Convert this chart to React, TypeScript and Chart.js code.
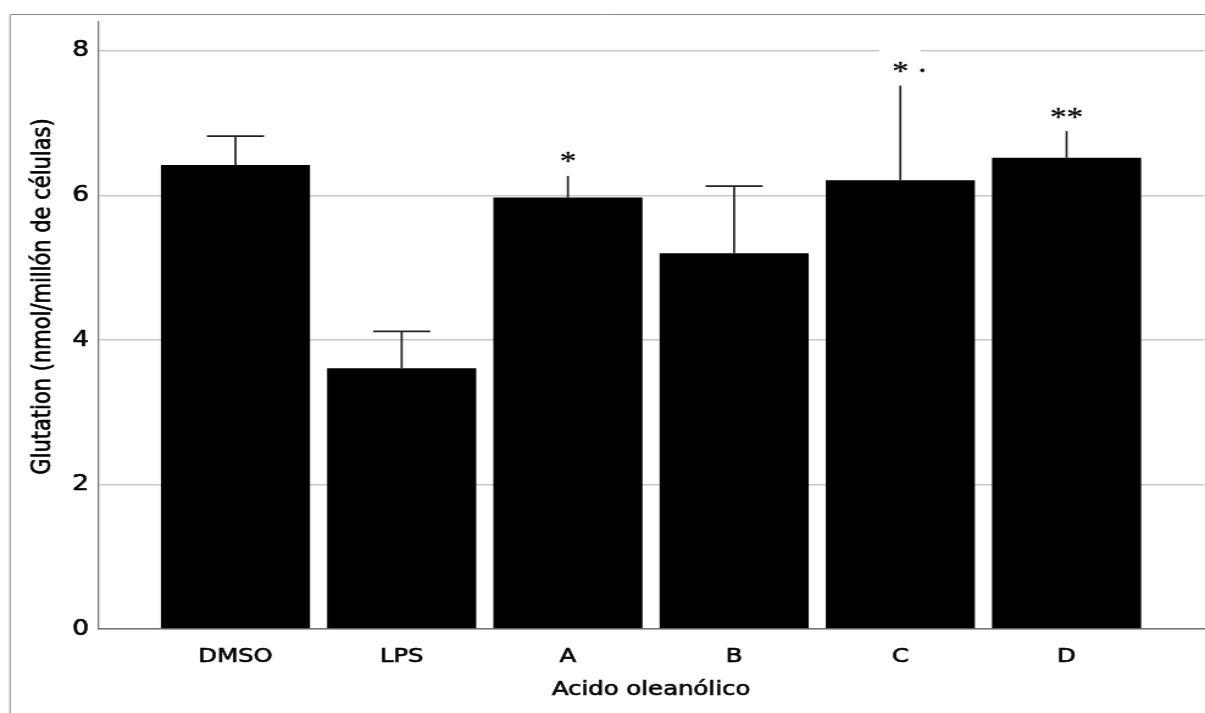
import React, { useEffect, useRef } from 'react';
import { Chart, registerables } from 'chart.js';

Chart.register(...registerables);

// ---- data ----
const categories: string[] = ['DMSO', 'LPS', 'A', 'B', 'C', 'D'];
const means: number[] = [6.42, 3.61, 5.97, 5.2, 6.21, 6.52];
const upperErrors: number[] = [6.82, 4.12, 6.27, 6.13, 7.52, 6.89];
const significance: string[] = ['', '', '*', '', '* ·', '**'];
const yTicks: number[] = [0, 2, 4, 6, 8];
const yTitle = 'Glutation (nmol/millón de células)';
const xTitle = 'Acido oleanólico';

// ---- layout ----
const OUT_W = 1205;
const OUT_H = 713;
const STRETCH = 1.2196; // the reference is horizontally stretched
const W = Math.round(OUT_W / STRETCH);
const H = OUT_H;

function boldText(ctx: CanvasRenderingContext2D, text: string, x: number, y: number, sw: number) {
  ctx.fillText(text, x, y);
  if (sw > 0) {
    ctx.lineWidth = sw;
    ctx.strokeStyle = ctx.fillStyle as string;
    ctx.strokeText(text, x, y);
  }
}

const decorPlugin = {
  id: 'decor',
  beforeDraw(chart: any) {
    const ctx = chart.ctx as CanvasRenderingContext2D;
    ctx.save();
    ctx.fillStyle = '#ffffff';
    ctx.fillRect(0, 0, chart.width, chart.height);
    // outer frame (top + left)
    ctx.strokeStyle = '#8a8a8a';
    ctx.lineWidth = 1;
    ctx.beginPath();
    ctx.moveTo(8.2, chart.height);
    ctx.lineTo(8.2, 14.5);
    ctx.lineTo(chart.width, 14.5);
    ctx.stroke();
    ctx.restore();
  },
  afterDraw(chart: any) {
    const ctx = chart.ctx as CanvasRenderingContext2D;
    const area = chart.chartArea;
    ctx.save();
    ctx.fillStyle = '#000000';
    ctx.textAlign = 'center';
    ctx.textBaseline = 'middle';
    ctx.font = '20px "DejaVu Sans"';
    boldText(ctx, xTitle, (area.left + area.right) / 2, 690, 0.6);
    ctx.translate(35.3, 296.5);
    ctx.rotate(-Math.PI / 2);
    ctx.font = '21px "DejaVu Sans"';
    boldText(ctx, yTitle, 0, 0, 0.6);
    ctx.restore();
  },
  afterDatasetsDraw(chart: any) {
    const ctx = chart.ctx as CanvasRenderingContext2D;
    const xs = chart.scales.x;
    const ys = chart.scales.y;
    const pts = categories.map((_, i) => ({
      x: xs.getPixelForValue(i),
      yb: ys.getPixelForValue(means[i]),
      yt: ys.getPixelForValue(upperErrors[i]),
    }));
    ctx.save();
    const capHalf = 23.4;
    // significance labels with white boxes
    ctx.font = '27px "Liberation Serif"';
    significance.forEach((s, i) => {
      if (!s) return;
      const p = pts[i];
      const first = s.split(' ')[0];
      const w0 = ctx.measureText(first).width;
      const wAll = ctx.measureText(s).width;
      const x0 = p.x - w0 / 2;
      ctx.fillStyle = '#ffffff';
      ctx.fillRect(x0 - 11, p.yt - 37, wAll + 5, 36);
      ctx.fillStyle = '#000000';
      ctx.textAlign = 'left';
      ctx.textBaseline = 'alphabetic';
      boldText(ctx, s, x0, p.yt - 5.5, 0.3);
    });
    // error bars (caps only where no label sits above)
    ctx.strokeStyle = '#222222';
    ctx.lineWidth = 1.7;
    pts.forEach((p, i) => {
      ctx.beginPath();
      ctx.moveTo(p.x, p.yb);
      ctx.lineTo(p.x, p.yt);
      if (!significance[i]) {
        ctx.moveTo(p.x - capHalf, p.yt);
        ctx.lineTo(p.x + capHalf, p.yt);
      }
      ctx.stroke();
    });
    ctx.restore();
  },
};

export default function App() {
  const canvasRef = useRef<HTMLCanvasElement | null>(null);

  useEffect(() => {
    const canvas = canvasRef.current;
    if (!canvas) return;
    const chart = new Chart(canvas, {
      type: 'bar',
      data: {
        datasets: [
          {
            data: means.map((v, i) => ({ x: i, y: v })),
            backgroundColor: '#000000',
            borderColor: '#000000',
            borderWidth: 0,
            barPercentage: 0.897,
            categoryPercentage: 1,
          } as any,
        ],
      },
      options: {
        responsive: false,
        animation: false,
        devicePixelRatio: 1,
        layout: { padding: { top: 22, right: 0.8, bottom: 0, left: 0 } },
        plugins: {
          legend: { display: false },
          tooltip: { enabled: false },
        },
        scales: {
          x: {
            type: 'linear',
            min: -0.827,
            max: 5.827,
            offset: false,
            grid: { display: false },
            border: { display: true, color: '#777777', width: 1.5 },
            ticks: {
              autoSkip: false,
              maxRotation: 0,
              minRotation: 0,
              padding: 8,
              color: '#000000',
              textStrokeColor: '#000000',
              textStrokeWidth: 0.6,
              font: { family: 'DejaVu Sans', size: 20 },
              callback: (v: any) => categories[v as number] ?? '',
            },
            afterBuildTicks: (s: any) => {
              s.ticks = categories.map((_, i) => ({ value: i }));
            },
            afterFit: (s: any) => {
              s.height = 84;
            },
            title: { display: false, text: xTitle },
          } as any,
          y: {
            type: 'linear',
            min: 0,
            max: 8.4,
            grid: { color: '#c8c8c8', lineWidth: 1.5, drawTicks: false },
            border: { display: true, color: '#777777', width: 1.3 },
            ticks: {
              padding: 7.4,
              color: '#000000',
              textStrokeColor: '#000000',
              textStrokeWidth: 0.6,
              font: { family: 'DejaVu Sans', size: 21.5 },
            },
            afterBuildTicks: (s: any) => {
              s.ticks = yTicks.map((v) => ({ value: v }));
            },
            afterFit: (s: any) => {
              s.width = 80.35;
            },
            title: { display: false, text: yTitle },
          } as any,
        },
      },
      plugins: [decorPlugin],
    });
    return () => chart.destroy();
  }, []);

  return (
    <div style={{ position: 'absolute', left: 0, top: 0, width: OUT_W, height: OUT_H, background: '#fff' }}>
      <canvas
        ref={canvasRef}
        width={W}
        height={H}
        style={{ width: `${OUT_W}px`, height: `${OUT_H}px`, display: 'block' }}
      />
    </div>
  );
}
